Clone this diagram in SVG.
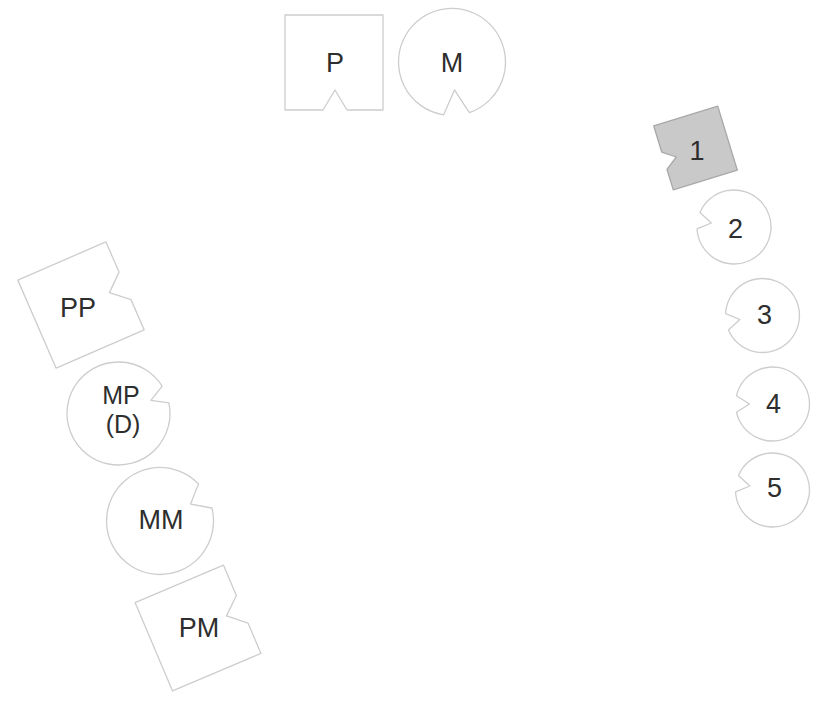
<svg xmlns="http://www.w3.org/2000/svg" xmlns:xlink="http://www.w3.org/1999/xlink" width="826" height="706" viewBox="0 0 826 706">
<style>
.sh{fill:#ffffff;stroke:#cdcdcd;stroke-width:1.3;stroke-linejoin:round}
.dk{fill:#c9c9c9;stroke:#a8a8a8;stroke-width:1.3;stroke-linejoin:round}
.t{font-family:"Liberation Sans",Arial,sans-serif;font-size:27px;fill:#2e2e2e;text-anchor:middle}
.s{font-size:25px}
</style>
<defs>
<path id="sq" d="M-48,-48 H48 V-15 L31,0 L48,15 V48 H-48 Z"/>
<path id="sc" d="M36.05,8.3 A37,37 0 1 1 36.05,-8.3 L23,0 Z"/>
</defs>
<rect width="826" height="706" fill="#ffffff"/>
<g id="connectors"></g>
<g id="node-P">
<path class="sh" d="M285,15 H383 V110 H347 L335,90 L323,110 H285 Z"/>
<text class="t" x="335" y="72">P</text>
</g>
<g id="node-M">
<path class="sh" transform="translate(452,62) rotate(85)" d="M51.9,12.9 A53.5,53.5 0 1 1 51.9,-12.9 L28,0 Z"/>
<text class="t" x="452" y="72">M</text>
</g>
<g id="node-1">
<path class="dk" transform="translate(695.5,148) rotate(-17)" d="M-33.5,-33.5 H33.5 V33.5 H-33.5 V12 L-21,3 L-33.5,-6 Z"/>
<text class="t" x="697" y="160">1</text>
</g>
<g id="node-2">
<use class="sh" xlink:href="#sc" href="#sc" transform="translate(734,227) rotate(190)"/>
<text class="t" x="735.5" y="238">2</text>
</g>
<g id="node-3">
<use class="sh" xlink:href="#sc" href="#sc" transform="translate(762.5,315.5) rotate(170)"/>
<text class="t" x="764.5" y="324">3</text>
</g>
<g id="node-4">
<use class="sh" xlink:href="#sc" href="#sc" transform="translate(772.5,404) rotate(180)"/>
<text class="t" x="773.5" y="413">4</text>
</g>
<g id="node-5">
<use class="sh" xlink:href="#sc" href="#sc" transform="translate(772.5,490) rotate(190)"/>
<text class="t" x="774.5" y="497">5</text>
</g>
<g id="node-PP">
<use class="sh" xlink:href="#sq" href="#sq" transform="translate(81,305) rotate(-23.5)"/>
<text class="t" x="78" y="317">PP</text>
</g>
<g id="node-MP">
<path class="sh" transform="translate(118.5,413.5) rotate(-22)" d="M50.7,9 A51.5,51.5 0 1 1 50.7,-9 L35,0 Z"/>
<text class="t s" x="121" y="404">MP</text>
<text class="t s" x="123" y="433">(D)</text>
</g>
<g id="node-MM">
<path class="sh" transform="translate(160,521) rotate(-29)" d="M51.7,13.8 A53.5,53.5 0 1 1 51.7,-13.8 L35,0 Z"/>
<text class="t" x="161" y="529">MM</text>
</g>
<g id="node-PM">
<use class="sh" xlink:href="#sq" href="#sq" transform="translate(198,628) rotate(-23)"/>
<text class="t" x="199" y="637">PM</text>
</g>
</svg>
